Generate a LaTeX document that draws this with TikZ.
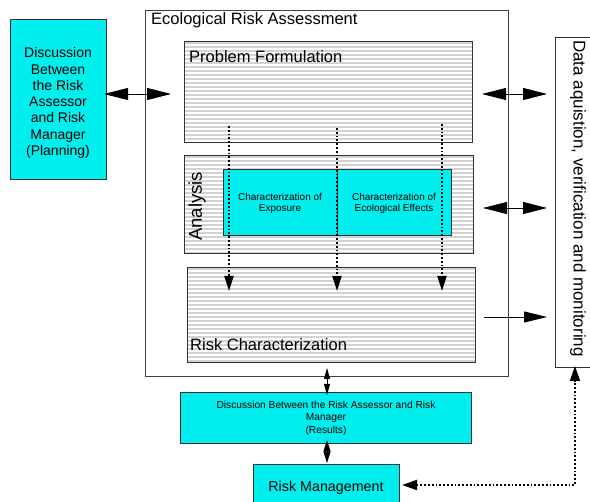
\documentclass[tikz,border=0pt]{standalone}
\usepackage{fontspec}
\setmainfont{Liberation Sans}
\usetikzlibrary{arrows.meta,calc}
\definecolor{cyanbox}{RGB}{0,238,238}
\definecolor{hatchgray}{RGB}{210,210,210}
\begin{document}
\begin{tikzpicture}[x=1pt,y=-1pt,
  box/.style={draw=black!80, line width=0.8pt, inner sep=0pt, anchor=north west},
  cyanfill/.style={box, fill=cyanbox},
  hatched/.style={box, fill=white, path picture={\foreach \k in {0,...,40}{\draw[hatchgray, line width=1.3pt] ([yshift={-\k*4pt-1.5pt}]path picture bounding box.north west) -- ([yshift={-\k*4pt-1.5pt}]path picture bounding box.north east);}}},
  big/.style={font=\fontsize{16.5}{19}\selectfont, inner sep=0pt},
  small/.style={font=\fontsize{10}{11}\selectfont, align=center, inner sep=0pt},
  dblarrow/.style={line width=0.8pt, {Triangle[length=24pt,width=12pt]}-{Triangle[length=24pt,width=12pt]}},
  vdbl/.style={line width=0.8pt, {Triangle[length=11pt,width=6pt]}-{Triangle[length=11pt,width=6pt]}},
  dotline/.style={line width=1.9pt, dash pattern=on 1.9pt off 1.9pt},
  dotarrow/.style={dotline, -{Triangle[length=15pt,width=9pt]}},
]
\useasboundingbox (0,0) rectangle (590,502);
\clip (0,0) rectangle (590,502);

% left planning box
\node[cyanfill, minimum width=96pt, minimum height=160pt] (plan) at (10,19) {};
\node[font=\fontsize{14}{16.3}\selectfont, align=center, inner sep=0pt] (plantxt) at (58,103) {Discussion\\Between\\the Risk\\Assessor\\and Risk\\Manager\\(Planning)};

% ERA outer box
\node[box, draw=black!75, minimum width=363pt, minimum height=366pt] (era) at (145,10) {};
\node[big, anchor=base west] (eratxt) at (151,25) {Ecological Risk Assessment};

% Problem formulation
\node[hatched, minimum width=288pt, minimum height=101pt] (pf) at (184,41) {};
\node[big, anchor=base west] (pftxt) at (189,63) {Problem Formulation};

% Analysis
\node[hatched, minimum width=289pt, minimum height=98pt] (an) at (184,155) {};
\node[font=\fontsize{18.5}{20}\selectfont, rotate=90, anchor=west, inner sep=0pt] (antxt) at (197,241) {Analysis};
\node[cyanfill, minimum width=114pt, minimum height=66pt] (exp) at (223,169) {};
\node[cyanfill, minimum width=114pt, minimum height=66pt] (eco) at (337,169) {};
\node[small] (exptxt) at (280,203.5) {Characterization of\\Exposure};
\node[small] (ecotxt) at (394,203.5) {Characterization of\\Ecological Effects};

% Risk characterization
\node[hatched, minimum width=288pt, minimum height=95pt] (rc) at (187,267) {};
\node[big, anchor=base west] (rctxt) at (190,351) {Risk Characterization};

% Data box
\node[box, minimum width=50pt, minimum height=330pt] (data) at (555,37) {};
\node[font=\fontsize{17}{19}\selectfont, inner sep=0pt, rotate=-90, anchor=west] (datatxt) at (578,40) {Data aquistion, verification and monitoring};

% Results discussion
\node[cyanfill, minimum width=291pt, minimum height=51pt] (res) at (180,392) {};
\node[font=\fontsize{10.2}{12.5}\selectfont, align=center, inner sep=0pt] (restxt) at (326,418) {Discussion Between the Risk Assessor and Risk\\Manager\\(Results)};

% Risk management
\node[cyanfill, minimum width=146pt, minimum height=50pt] (rm) at (253,464) {};
\node[font=\fontsize{14.3}{16}\selectfont, anchor=base, inner sep=0pt] (rmtxt) at (326,492) {Risk Management};

% connector end points
\coordinate (pl1) at (104,94);
\coordinate (pl2) at (171,94);
\coordinate (r1a) at (482,94);
\coordinate (r1b) at (547,94);
\coordinate (r2a) at (483,208);
\coordinate (r2b) at (547,208);
\coordinate (r3a) at (484,317);
\coordinate (r3b) at (547,317);
\coordinate (d1a) at (229,126);
\coordinate (d1b) at (229,291);
\coordinate (d2a) at (337,128);
\coordinate (d2b) at (337,291);
\coordinate (d3a) at (442,124);
\coordinate (d3b) at (442,291);
\coordinate (v1a) at (327,368);
\coordinate (v1b) at (327,395);
\coordinate (v2a) at (327,440);
\coordinate (v2b) at (327,463);
\coordinate (fbA) at (402,485);
\coordinate (fbB) at (575,366);

\draw[dblarrow] (pl1) -- (pl2);
\draw[dblarrow] (r1a) -- (r1b);
\draw[dblarrow] (r2a) -- (r2b);
\draw[line width=0.8pt, -{Triangle[length=23pt,width=11pt]}] (r3a) -- (r3b);

\draw[dotarrow] (d1a) -- (d1b);
\draw[dotarrow] (d2a) -- (d2b);
\draw[dotarrow] (d3a) -- (d3b);

\draw[vdbl] (v1a) -- (v1b);
\draw[line width=0.8pt, {Triangle[length=11.5pt,width=7pt]}-{Triangle[length=11.5pt,width=7pt]}] (v2a) -- (v2b);

\draw[dotline, {Triangle[length=15pt,width=10pt]}-{Triangle[length=15pt,width=10pt]}] (fbA) -| (fbB);
\end{tikzpicture}
\end{document}
